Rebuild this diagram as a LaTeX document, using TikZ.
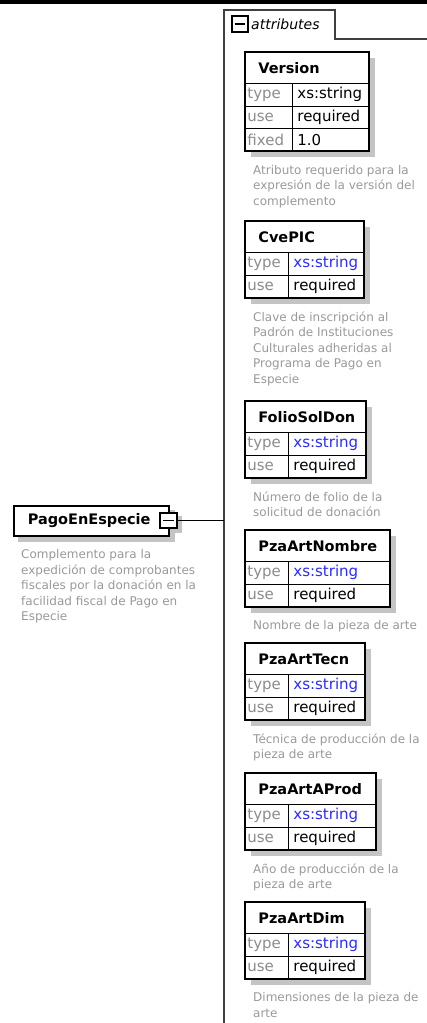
\documentclass[tikz,border=0pt]{standalone}
\usepackage{fontspec}
\setmainfont{DejaVu Sans}[ItalicFont={DejaVu Sans Oblique},BoldFont={DejaVu Sans Bold}]
\usepackage{tikz}
\pgfdeclarelayer{edgelayer}
\pgfsetlayers{edgelayer,main}
\definecolor{hexcolor0x2b2bff}{rgb}{0.169,0.169,1.000}
\definecolor{hexcolor0x8c8c8c}{rgb}{0.549,0.549,0.549}
\definecolor{hexcolor0x999999}{rgb}{0.600,0.600,0.600}
\definecolor{hexcolor0xc4c4c4}{rgb}{0.769,0.769,0.769}
\definecolor{hexcolor0x404040}{rgb}{0.251,0.251,0.251}
\definecolor{myblack}{rgb}{0.000,0.000,0.000}
\definecolor{mywhite}{rgb}{1.000,1.000,1.000}
\tikzstyle{elem}=[rectangle,fill=mywhite,draw=myblack,line width=1.5pt,anchor=north west,inner xsep=14pt,inner ysep=0pt,text width=127pt,minimum height=30pt,font=\bfseries\fontsize{14.5}{17}\selectfont]
\tikzstyle{collapse}=[rectangle,fill=mywhite,draw=myblack,line width=1.8pt,inner sep=0pt,path picture={\draw[myblack,line width=1.3pt] ([xshift=3pt]path picture bounding box.west) -- ([xshift=-3pt]path picture bounding box.east);}]
\tikzstyle{group}=[anchor=west,inner sep=0pt,font=\itshape\fontsize{14}{17}\selectfont]
\tikzstyle{attrhead}=[rectangle,fill=mywhite,draw=myblack,line width=0.8pt,anchor=north west,inner xsep=13pt,inner ysep=0pt,minimum height=31pt,font=\bfseries\fontsize{14.5}{17}\selectfont]
\tikzstyle{attrkey}=[rectangle,fill=mywhite,draw=myblack,line width=0.8pt,anchor=north west,inner xsep=2pt,inner ysep=0pt,minimum height=22.5pt,text width=39pt,text=hexcolor0x8c8c8c,font=\fontsize{15}{18}\selectfont]
\tikzstyle{attrval}=[rectangle,fill=mywhite,draw=myblack,line width=0.8pt,anchor=north west,inner xsep=5pt,inner ysep=0pt,minimum height=22.5pt,text=myblack,font=\fontsize{15}{18}\selectfont]
\tikzstyle{attrtype}=[style=attrval,text=hexcolor0x2b2bff]
\tikzstyle{boxline}=[draw=myblack,line width=1.8pt]
\tikzstyle{shadowfill}=[fill=hexcolor0xc4c4c4]
\tikzstyle{desc}=[anchor=north west,inner sep=0pt,align=left,text=hexcolor0x999999,font=\fontsize{12}{15.5}\selectfont]
\tikzstyle{groupframe}=[draw=hexcolor0x404040,line width=2pt]
\tikzstyle{link}=[draw=myblack,line width=1.8pt]

\begin{document}
\begin{tikzpicture}[x=1pt,y=-1pt]
	\useasboundingbox (0,0) rectangle (427,1023);
	\fill [myblack] (0,0) rectangle (427,3.5);
	\draw [style=groupframe] (223.5,1023) -- (223.5,10) -- (335,10) -- (335,38.5) -- (427,38.5);

		\node [style=elem] (0) at (13,505) {PagoEnEspecie};
		\node [style=collapse,minimum width=17pt,minimum height=15pt] (1) at (168.5,520.5) {};
		\node [style=desc] (2) at (21,549.5) {Complemento para la\\expedición de comprobantes\\fiscales por la donación en la\\facilidad fiscal de Pago en\\Especie};
		\coordinate (c0) at (223.5,520.5);
		\draw [style=link] (1) -- (c0);

		\node [style=collapse,minimum size=16pt,line width=2pt] (3) at (239.5,24) {};
		\node [style=group] (4) at (251,24.5) {attributes};

		\node [style=attrhead,text width=97pt] (5) at (245,52) {Version};
		\node [style=attrkey,text width=43pt] (6) at (245,83) {type};
		\node [style=attrval,text width=66pt] (7) at (292,83) {xs:string};
		\node [style=attrkey,text width=43pt] (8) at (245,105.5) {use};
		\node [style=attrval,text width=66pt] (9) at (292,105.5) {required};
		\node [style=attrkey,text width=43pt] (10) at (245,128) {fixed};
		\node [style=attrval,text width=66pt] (11) at (292,128) {1.0};
		\node [style=desc] (12) at (253,165) {Atributo requerido para la\\expresión de la versión del\\complemento};

		\node [style=attrhead,text width=92pt] (13) at (245,221) {CvePIC};
		\node [style=attrkey] (14) at (245,252) {type};
		\node [style=attrtype,text width=65pt] (15) at (288,252) {xs:string};
		\node [style=attrkey] (16) at (245,274.5) {use};
		\node [style=attrval,text width=65pt] (17) at (288,274.5) {required};
		\node [style=desc] (18) at (253,311.5) {Clave de inscripción al\\Padrón de Instituciones\\Culturales adheridas al\\Programa de Pago en\\Especie};

		\node [style=attrhead,text width=94pt] (19) at (245,401) {FolioSolDon};
		\node [style=attrkey] (20) at (245,432) {type};
		\node [style=attrtype,text width=67pt] (21) at (288,432) {xs:string};
		\node [style=attrkey] (22) at (245,454.5) {use};
		\node [style=attrval,text width=67pt] (23) at (288,454.5) {required};
		\node [style=desc] (24) at (253,491.5) {Número de folio de la\\solicitud de donación};

		\node [style=attrhead,text width=118pt] (25) at (245,530) {PzaArtNombre};
		\node [style=attrkey] (26) at (245,561) {type};
		\node [style=attrtype,text width=91pt] (27) at (288,561) {xs:string};
		\node [style=attrkey] (28) at (245,583.5) {use};
		\node [style=attrval,text width=91pt] (29) at (288,583.5) {required};
		\node [style=desc] (30) at (253,620.5) {Nombre de la pieza de arte};

		\node [style=attrhead,text width=93pt] (31) at (245,643) {PzaArtTecn};
		\node [style=attrkey] (32) at (245,674) {type};
		\node [style=attrtype,text width=66pt] (33) at (288,674) {xs:string};
		\node [style=attrkey] (34) at (245,696.5) {use};
		\node [style=attrval,text width=66pt] (35) at (288,696.5) {required};
		\node [style=desc] (36) at (253,733.5) {Técnica de producción de la\\pieza de arte};

		\node [style=attrhead,text width=104pt] (37) at (245,773) {PzaArtAProd};
		\node [style=attrkey] (38) at (245,804) {type};
		\node [style=attrtype,text width=77pt] (39) at (288,804) {xs:string};
		\node [style=attrkey] (40) at (245,826.5) {use};
		\node [style=attrval,text width=77pt] (41) at (288,826.5) {required};
		\node [style=desc] (42) at (253,863.5) {Año de producción de la\\pieza de arte};

		\node [style=attrhead,text width=93pt] (43) at (245,902) {PzaArtDim};
		\node [style=attrkey] (44) at (245,933) {type};
		\node [style=attrtype,text width=66pt] (45) at (288,933) {xs:string};
		\node [style=attrkey] (46) at (245,955.5) {use};
		\node [style=attrval,text width=66pt] (47) at (288,955.5) {required};
		\node [style=desc] (48) at (253,992.5) {Dimensiones de la pieza de\\arte};

		\draw [style=boxline] (5.north west) rectangle (11.south east);
		\draw [style=boxline] (13.north west) rectangle (17.south east);
		\draw [style=boxline] (19.north west) rectangle (23.south east);
		\draw [style=boxline] (25.north west) rectangle (29.south east);
		\draw [style=boxline] (31.north west) rectangle (35.south east);
		\draw [style=boxline] (37.north west) rectangle (41.south east);
		\draw [style=boxline] (43.north west) rectangle (47.south east);

	\begin{pgfonlayer}{edgelayer}
		\fill [style=shadowfill] ([shift={(5pt,-5pt)}]0.north west) rectangle ([shift={(5pt,-5pt)}]0.south east);
		\fill [style=shadowfill] ([shift={(4pt,-4pt)}]1.north west) rectangle ([shift={(4pt,-4pt)}]1.south east);
		\fill [style=shadowfill] ([shift={(6pt,-6pt)}]5.north west) rectangle ([shift={(6pt,-6pt)}]11.south east);
		\fill [style=shadowfill] ([shift={(6pt,-6pt)}]13.north west) rectangle ([shift={(6pt,-6pt)}]17.south east);
		\fill [style=shadowfill] ([shift={(6pt,-6pt)}]19.north west) rectangle ([shift={(6pt,-6pt)}]23.south east);
		\fill [style=shadowfill] ([shift={(6pt,-6pt)}]25.north west) rectangle ([shift={(6pt,-6pt)}]29.south east);
		\fill [style=shadowfill] ([shift={(6pt,-6pt)}]31.north west) rectangle ([shift={(6pt,-6pt)}]35.south east);
		\fill [style=shadowfill] ([shift={(6pt,-6pt)}]37.north west) rectangle ([shift={(6pt,-6pt)}]41.south east);
		\fill [style=shadowfill] ([shift={(6pt,-6pt)}]43.north west) rectangle ([shift={(6pt,-6pt)}]47.south east);
	\end{pgfonlayer}
\end{tikzpicture}
\end{document}
